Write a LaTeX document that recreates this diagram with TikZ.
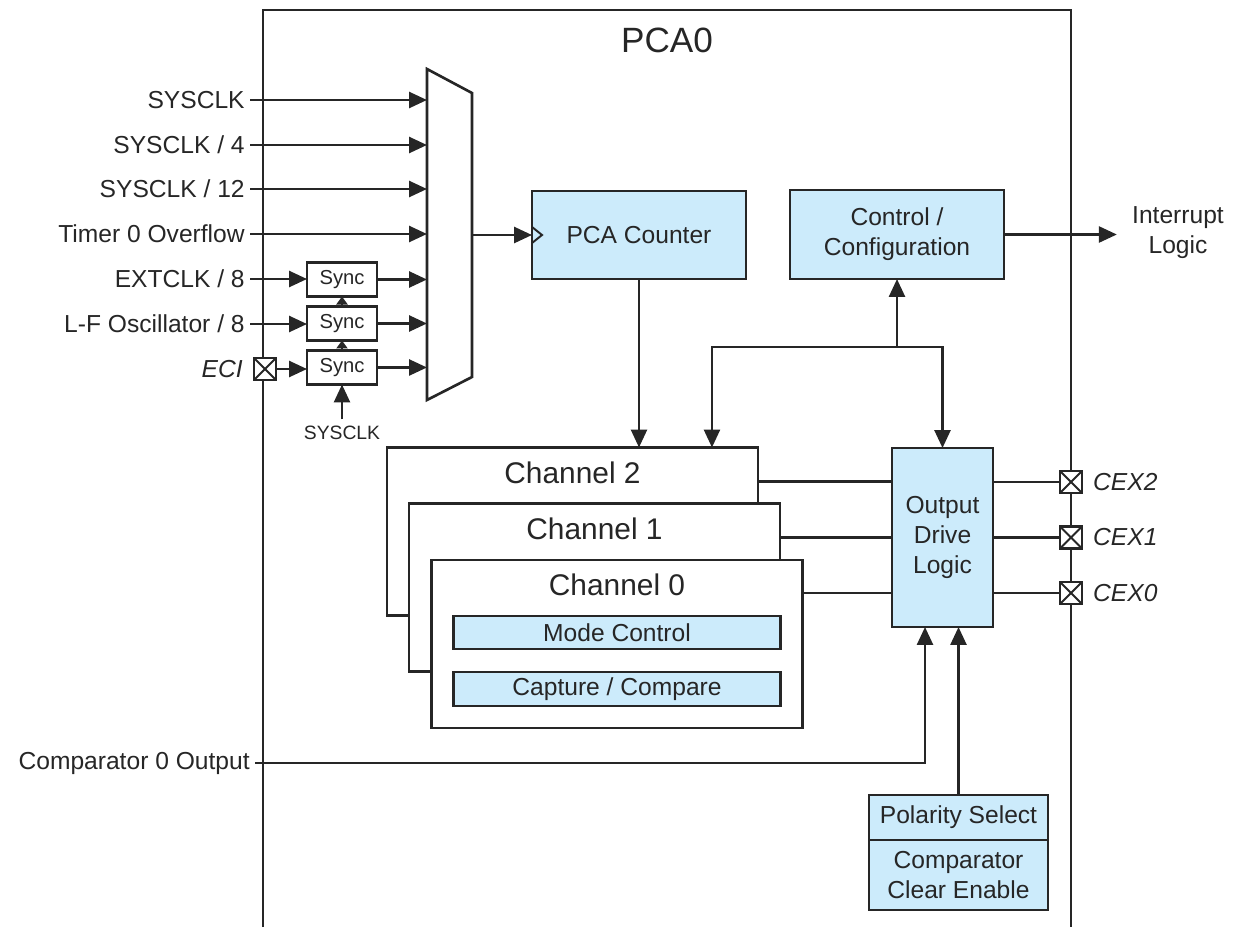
\documentclass[tikz,border=0pt]{standalone}
\usepackage{fontspec}
\setmainfont{Liberation Sans}
\usetikzlibrary{arrows.meta, calc, positioning}
\definecolor{blau}{HTML}{CCEBFB}
\definecolor{tinte}{HTML}{262626}

\begin{document}
\begin{tikzpicture}[
    x=0.02cm, y=-0.02cm,
    font=\fontsize{14}{17}\selectfont,
    text=tinte,
    wire/.style={draw=tinte, line width=1.5pt},
    arr/.style={wire, -{Triangle[length=0.36cm, width=0.32cm]}},
    tick/.style={wire, -{Triangle[length=0.16cm, width=0.22cm]}},
    blk/.style={wire, fill=blau, outer sep=0pt, inner sep=0pt, align=center},
    chan/.style={wire, fill=white, minimum width=7.42cm, minimum height=3.36cm, outer sep=0pt},
    syncbox/.style={wire, fill=white, minimum width=1.4cm, minimum height=0.68cm,
                    outer sep=0pt, font=\fontsize{11.5}{13}\selectfont},
    iopad/.style={wire, fill=white, minimum size=0.44cm, inner sep=0pt, outer sep=0pt,
                  path picture={\draw[line width=1.1pt]
                    (path picture bounding box.north west) -- (path picture bounding box.south east)
                    (path picture bounding box.south west) -- (path picture bounding box.north east);}},
    src/.style={anchor=east, inner sep=0.1cm},
    io/.style={font=\fontsize{14}{17}\selectfont\itshape},
    chtitle/.style={font=\fontsize{17}{20}\selectfont}
  ]
  \useasboundingbox (0,0) rectangle (1234,927);

  % Rahmen PCA0
  \draw[wire, line width=1.2pt] (263,927) -- (263,10) -- (1071,10) -- (1071,927);
  \node[font=\fontsize{20}{24}\selectfont] (title) at (667,40) {PCA0};

  % Multiplexer
  \draw[wire, fill=white] (427,69) -- (472,93) -- (472,377) -- (427,400) -- cycle;
  \coordinate (muxin) at (427,0);
  \coordinate (muxout) at (472,235);

  % Taktquellen
  \node[src] (sys)   at (250,100) {SYSCLK};
  \node[src] (sys4)  at (250,145) {SYSCLK / 4};
  \node[src] (sys12) at (250,189) {SYSCLK / 12};
  \node[src] (t0)    at (250,234) {Timer 0 Overflow};
  \node[src] (ext)   at (250,279) {EXTCLK / 8};
  \node[src] (lfo)   at (250,324) {L-F Oscillator / 8};
  \node[iopad] (ecipad) at (265,369) {};
  \node[src, io, left=0.12cm of ecipad] (eci) {ECI};

  % Sync-Stufen
  \node[syncbox] (s1) at (342,279.5) {Sync};
  \node[syncbox, below=0.2cm of s1] (s2) {Sync};
  \node[syncbox, below=0.2cm of s2] (s3) {Sync};
  \node[font=\fontsize{11}{13}\selectfont, below=0.7cm of s3] (sclk) {SYSCLK};

  \foreach \q in {sys, sys4, sys12, t0}
    \draw[arr] (\q.east) -- (\q.east -| muxin);
  \draw[arr] (ext.east) -- (ext.east -| s1.west);
  \draw[arr] (lfo.east) -- (lfo.east -| s2.west);
  \draw[arr] (ecipad.east) -- (ecipad.east -| s3.west);
  \foreach \s in {s1, s2, s3}
    \draw[arr] (\s.east) -- (\s.east -| muxin);
  \draw[tick] (s3.north) -- (s2.south);
  \draw[tick] (s2.north) -- (s1.south);
  \draw[arr] (sclk.north) -- (s3.south);

  % Zaehler und Steuerung
  \node[blk, minimum width=4.28cm, minimum height=1.76cm] (cnt) at (639,235) {PCA Counter};
  \draw[arr] (muxout) -- (cnt.west);
  \draw[wire, line width=1.1pt] ($(cnt.west)+(0,-8)$) -- ++(10,8) -- ++(-10,8);

  \node[blk, minimum width=4.28cm, minimum height=1.78cm] (ctl) at (897,234.5) {Control /\\Configuration};
  \node[align=center, inner sep=0.3cm] (irq) at (1178,233) {Interrupt\\Logic};
  \draw[arr] (ctl.east) -- (ctl.east -| irq.west);

  \node[blk, minimum width=2.02cm, minimum height=3.58cm] (odl) at (942.5,537.5) {Output\\Drive\\Logic};

  % Kanaele
  \node[chan] (ch2) at (572.5,531.5) {};
  \node[chtitle] (t2) at ($(ch2.north)+(0,25)$) {Channel 2};
  \node[chan] (ch1) at (594.5,587.5) {};
  \node[chtitle] (t1) at ($(ch1.north)+(0,25)$) {Channel 1};
  \node[chan] (ch0) at (617,644) {};
  \node[chtitle] (t0c) at ($(ch0.north)+(0,25)$) {Channel 0};
  \node[blk, minimum width=6.54cm, minimum height=0.66cm] (mode) at ($(ch0)+(0,-11.5)$) {Mode Control};
  \node[blk, minimum width=6.54cm, minimum height=0.68cm] (cap) at ($(ch0)+(0,45)$) {Capture / Compare};

  % Busse
  \coordinate (bus) at (897,347);
  \draw[arr] (cnt.south) -- (cnt.south |- ch2.north);
  \draw[arr] (bus) -- (ctl.south);
  \draw[arr] (bus) -| (odl.north);
  \draw[arr] (bus) -| ([xshift=-0.92cm]ch2.north east);

  \foreach \c/\d in {ch2/0.68cm, ch1/0.68cm, ch0/0.66cm}
    \draw[wire] ([yshift=-\d]\c.north east) coordinate (tmp) -- (tmp -| odl.west);

  % Ausgaenge
  \node[iopad] (cex2) at (1071,482) {};
  \node[iopad] (cex1) at (1071,537.5) {};
  \node[iopad] (cex0) at (1071,593) {};
  \node[io, right=0.1cm of cex2] (lcex2) {CEX2};
  \node[io, right=0.1cm of cex1] (lcex1) {CEX1};
  \node[io, right=0.1cm of cex0] (lcex0) {CEX0};
  \foreach \p in {cex2, cex1, cex0}
    \draw[wire] (odl.east |- \p) -- (\p.west);

  % Komparator
  \node[src] (cmp) at (255,763) {Comparator 0 Output};
  \draw[arr] (cmp.east) -| ([xshift=-0.35cm]odl.south);
  \node[blk, minimum width=3.58cm, minimum height=0.9cm] (pol) at (958.5,817.5) {Polarity Select};
  \node[blk, minimum width=3.58cm, minimum height=1.4cm, below=0cm of pol] (clr) {Comparator\\Clear Enable};
  \draw[arr] (pol.north) -- (pol.north |- odl.south);
\end{tikzpicture}
\end{document}
